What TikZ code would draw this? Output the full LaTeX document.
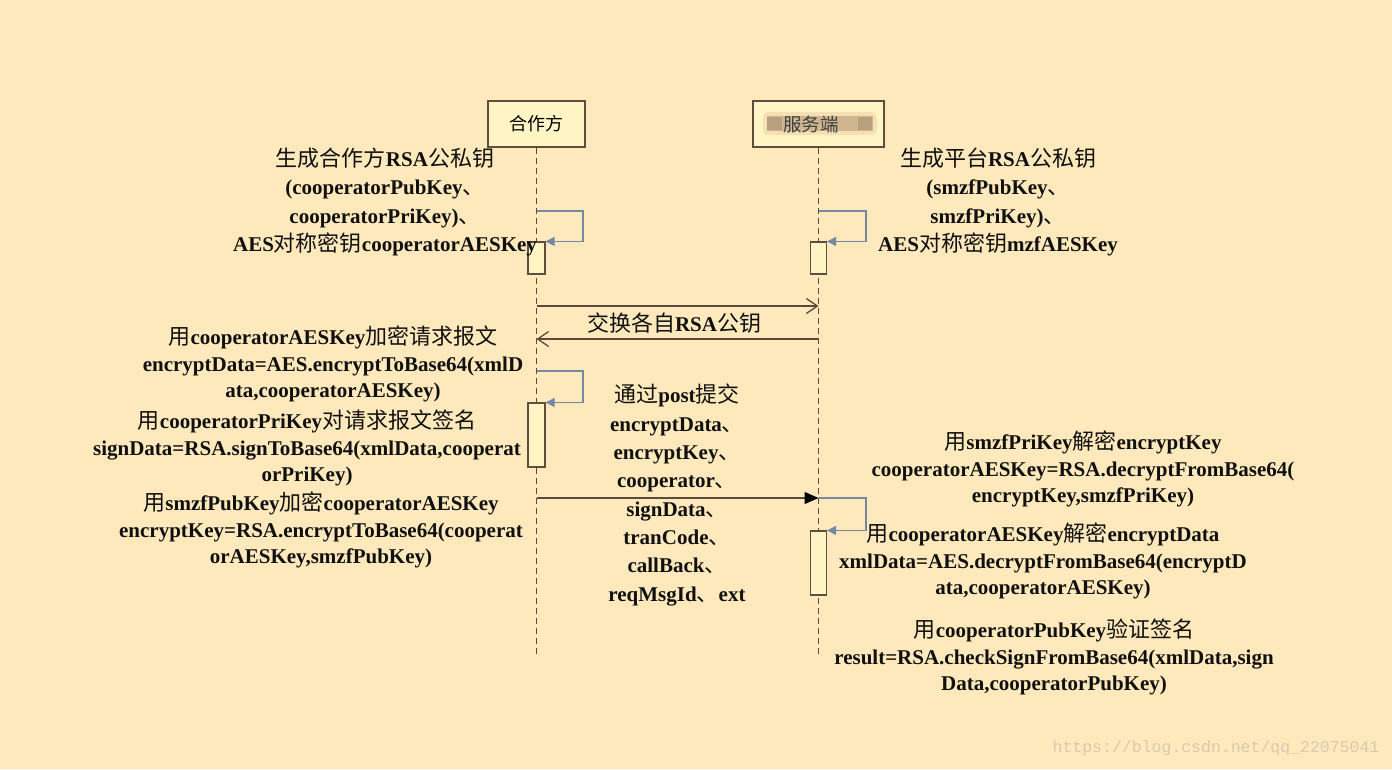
\documentclass[tikz,border=0pt]{standalone}
\usepackage{fontspec}
\setmainfont{Liberation Serif}
\setmonofont{Liberation Mono}
\newfontfamily\cjkfam{Noto Sans CJK SC}
\usetikzlibrary{arrows.meta}
\definecolor{bgc}{HTML}{FEE9BC}
\definecolor{boxfill}{HTML}{FFF5C4}
\definecolor{boxline}{HTML}{5E4E3E}
\definecolor{lifec}{HTML}{5A4A3A}
\definecolor{selfc}{HTML}{7488A4}
\definecolor{msgc}{HTML}{5A4A3A}
\definecolor{txtc}{HTML}{101010}
\definecolor{wmc}{HTML}{D8CAAE}
\definecolor{blurA}{HTML}{CFB690}
\definecolor{blurB}{HTML}{B9A17F}
\definecolor{blurH}{HTML}{F6DFB2}
\newcommand\zhs[1]{{\cjkfam\mdseries\fontsize{22}{22}\selectfont #1}}
\begin{document}
\begin{tikzpicture}[x=1pt,y=-1pt,
  headbox/.style={draw=boxline, fill=boxfill, line width=1.1pt, minimum width=97pt, minimum height=46pt, inner sep=0pt},
  actbox/.style={draw=boxline, fill=boxfill, line width=1.1pt, minimum width=17pt, minimum height=32pt, inner sep=0pt},
  lifeline/.style={draw=lifec, line width=1.3pt, dash pattern=on 6pt off 4pt},
  selfarr/.style={draw=selfc, line width=1.1pt, -{Triangle[length=9pt,width=9pt]}},
  msgopen/.style={draw=msgc, line width=1.3pt, -{Straight Barb[length=11pt,width=15pt]}},
  msgfill/.style={draw=msgc, line width=1.3pt, -{Triangle[length=14pt,width=12pt,fill=black,color=black]}},
  txtbase/.style={align=center, inner sep=0pt, text=txtc},
  txtA/.style={txtbase, font=\bfseries\fontsize{21}{28.3}\selectfont},
  txtB/.style={txtbase, font=\bfseries\fontsize{21}{26.5}\selectfont},
]
% background
\fill[bgc] (0,0) rectangle (1392,769);
\useasboundingbox (0,0) rectangle (1392,769);

% lifeline heads
\node[headbox] (A) at (536.5,124) {\cjkfam\fontsize{18}{18}\selectfont\color{black}合作方};
\node[headbox, minimum width=131pt] (B) at (818.5,124) {};
\fill[blurH, rounded corners=6pt] (763,112) rectangle (877,135);
\fill[blurA] (767,116) rectangle (873,131);
\fill[blurB] (767,117) rectangle (782,130);
\fill[blurB] (858,117) rectangle (872,130);
\node[inner sep=0pt, text=black!75] (Btxt) at (811,124) {\cjkfam\fontsize{18.5}{18.5}\selectfont 服务端};

% lifelines
\coordinate (Aend) at (536.5,657);
\coordinate (Bend) at (818.5,657);
\draw[lifeline] (A.south) -- (Aend);
\draw[lifeline] (B.south) -- (Bend);

% activation boxes
\node[actbox] (a1) at (536.5,258) {};
\node[actbox, minimum height=64pt] (a2) at (536.5,435) {};
\node[actbox, minimum width=16pt] (b1) at (818.5,258) {};
\node[actbox, minimum width=16pt, minimum height=64pt] (b2) at (818.5,563) {};

% self messages
\coordinate (s1) at (536.5,211);
\coordinate (s2) at (818.5,211);
\coordinate (s3) at (536.5,371);
\draw[selfarr] (s1) -- ++(46.5,0) |- (a1.north east);
\draw[selfarr] (s2) -- ++(47.5,0) |- (b1.north east);
\draw[selfarr] (s3) -- ++(46.5,0) |- (a2.north east);

% messages
\coordinate (m1a) at (536.5,306);
\coordinate (m1b) at (818.5,306);
\coordinate (m2a) at (818.5,339);
\coordinate (m2b) at (536.5,339);
\coordinate (m3a) at (536.5,498);
\coordinate (m3b) at (818.5,498);
\draw[msgopen] (m1a) -- (m1b);
\draw[msgopen] (m2a) -- (m2b);
\draw[selfarr] (m3b) -- ++(47.5,0) |- (b2.north east);
\draw[msgfill] (m3a) -- (m3b);

% labels
\node[txtA] (ex) at (674,323) {\zhs{交换各自}RSA\zhs{公钥}};

\node[txtA] (t1) at (385,202) {\zhs{生成合作方}RSA\zhs{公私钥}\\(cooperatorPubKey\zhs{、}\\cooperatorPriKey)\zhs{、}\\AES\zhs{对称密钥}cooperatorAESKey};
\node[txtA] (t2) at (998,202) {\zhs{生成平台}RSA\zhs{公私钥}\\(smzfPubKey\zhs{、}\\smzfPriKey)\zhs{、}\\AES\zhs{对称密钥}mzfAESKey};

\node[txtB] (l1) at (333,364) {\zhs{用}cooperatorAESKey\zhs{加密请求报文}\\encryptData=AES.encryptToBase64(xmlD\\ata,cooperatorAESKey)};
\node[txtB] (l2) at (307,448) {\zhs{用}cooperatorPriKey\zhs{对请求报文签名}\\signData=RSA.signToBase64(xmlData,cooperat\\orPriKey)};
\node[txtB] (l3) at (321,530) {\zhs{用}smzfPubKey\zhs{加密}cooperatorAESKey\\encryptKey=RSA.encryptToBase64(cooperat\\orAESKey,smzfPubKey)};

\node[txtA] (mid) at (677,495) {\zhs{通过}post\zhs{提交}\\encryptData\zhs{、}\\encryptKey\zhs{、}\\cooperator\zhs{、}\\signData\zhs{、}\\tranCode\zhs{、}\\callBack\zhs{、}\\reqMsgId\zhs{、}ext};

\node[txtB] (r1) at (1083,469) {\zhs{用}smzfPriKey\zhs{解密}encryptKey\\cooperatorAESKey=RSA.decryptFromBase64(\\encryptKey,smzfPriKey)};
\node[txtB] (r2) at (1043,561) {\zhs{用}cooperatorAESKey\zhs{解密}encryptData\\xmlData=AES.decryptFromBase64(encryptD\\ata,cooperatorAESKey)};
\node[txtB] (r3) at (1054,657) {\zhs{用}cooperatorPubKey\zhs{验证签名}\\result=RSA.checkSignFromBase64(xmlData,sign\\Data,cooperatorPubKey)};

% watermark
\node[inner sep=0pt, text=wmc, font=\ttfamily\fontsize{16.5}{18}\selectfont] (wm) at (1216,748) {https://blog.csdn.net/qq\_22075041};
\end{tikzpicture}
\end{document}
